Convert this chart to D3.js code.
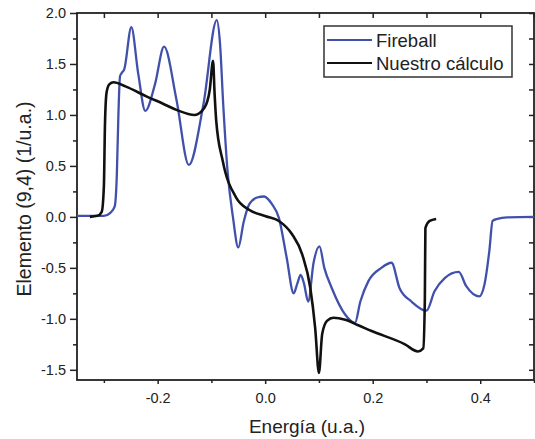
<!DOCTYPE html>
<html>
<head>
<meta charset="utf-8">
<script src="https://cdn.jsdelivr.net/npm/d3@7"></script>
<style>
  html, body { margin: 0; padding: 0; background: #fff; }
  svg { display: block; font-family: "Liberation Sans", Arial, sans-serif; }
</style>
</head>
<body>
<svg id="chart" width="535" height="439"></svg>
<script>
// ---- data ----
const fireballX = [-0.35, -0.30, -0.288, -0.280, -0.276, -0.273, -0.270, -0.267, -0.262, -0.249, -0.236, -0.223, -0.205, -0.188, -0.165, -0.142, -0.115, -0.090, -0.084, -0.078, -0.070, -0.060, -0.050, -0.040, -0.030, -0.015, -0.002, 0.012, 0.0255, 0.040, 0.053, 0.060, 0.066, 0.072, 0.080, 0.090, 0.101, 0.110, 0.124, 0.149, 0.167, 0.177, 0.192, 0.216, 0.235, 0.250, 0.272, 0.300, 0.315, 0.334, 0.360, 0.374, 0.398, 0.408, 0.417, 0.423, 0.432, 0.45, 0.50];
const fireballY = [0.01, 0.01, 0.04, 0.10, 0.40, 1.00, 1.38, 1.41, 1.45, 1.86, 1.40, 1.04, 1.30, 1.67, 1.15, 0.51, 1.10, 1.93, 1.70, 1.10, 0.45, 0.00, -0.30, -0.05, 0.12, 0.19, 0.20, 0.13, -0.01, -0.40, -0.75, -0.65, -0.57, -0.65, -0.83, -0.45, -0.29, -0.50, -0.70, -0.96, -1.04, -0.83, -0.63, -0.50, -0.45, -0.70, -0.83, -0.92, -0.73, -0.60, -0.54, -0.68, -0.78, -0.66, -0.33, -0.04, -0.02, -0.005, 0.0];

const calcX = [-0.326, -0.312, -0.304, -0.300, -0.298, -0.295, -0.290, -0.282, -0.260, -0.220, -0.190, -0.165, -0.131, -0.113, -0.103, -0.097, -0.094, -0.091, -0.079, -0.054, -0.030, 0.001, 0.0255, 0.050, 0.069, 0.084, 0.093, 0.100, 0.106, 0.115, 0.127, 0.149, 0.172, 0.198, 0.260, 0.284, 0.294, 0.297, 0.298, 0.306, 0.318];
const calcY = [0.0, 0.01, 0.05, 0.30, 0.90, 1.22, 1.30, 1.32, 1.28, 1.18, 1.11, 1.05, 1.00, 1.07, 1.25, 1.53, 1.20, 0.94, 0.55, 0.19, 0.07, 0.007, -0.04, -0.17, -0.37, -0.70, -1.09, -1.53, -1.15, -1.02, -0.99, -1.01, -1.06, -1.12, -1.25, -1.32, -1.29, -0.80, -0.11, -0.04, -0.02];

const xTicks = [-0.2, 0.0, 0.2, 0.4];
const xMinor = [-0.3, -0.1, 0.1, 0.3, 0.5];
const yTicks = [-1.5, -1.0, -0.5, 0.0, 0.5, 1.0, 1.5, 2.0];
const yMinor = [-1.25, -0.75, -0.25, 0.25, 0.75, 1.25, 1.75];
const seriesNames = ["Fireball", "Nuestro cálculo"];
const seriesColors = ["#4151ab", "#111111"];

// ---- layout ----
const svg = d3.select("#chart");
const L = 77, T = 13, R = 534, B = 380;
const x = d3.scaleLinear().domain([-0.35, 0.5]).range([L, R]);
const y = d3.scaleLinear().domain([-1.6, 2.0]).range([B, T]);
const fmt = d => d.toFixed(1);

const textColor = "#222";

// bottom axis
svg.append("g").attr("transform", `translate(0,${B})`)
  .call(d3.axisBottom(x).tickValues(xTicks).tickFormat(fmt).tickSize(4).tickPadding(9));
svg.append("g").attr("transform", `translate(0,${B})`)
  .call(d3.axisBottom(x).tickValues(xMinor).tickFormat("").tickSize(3));
// left axis
svg.append("g").attr("transform", `translate(${L},0)`)
  .call(d3.axisLeft(y).tickValues(yTicks).tickFormat(fmt).tickSize(7).tickPadding(4));
svg.append("g").attr("transform", `translate(${L},0)`)
  .call(d3.axisLeft(y).tickValues(yMinor).tickFormat("").tickSize(4));
// top axis (inward ticks)
svg.append("g").attr("transform", `translate(0,${T})`)
  .call(d3.axisTop(x).tickValues(xTicks.concat(xMinor)).tickFormat("").tickSize(-5));
// right axis (inward ticks)
svg.append("g").attr("transform", `translate(${R},0)`)
  .call(d3.axisRight(y).tickValues(yTicks.concat(yMinor)).tickFormat("").tickSize(-5));

svg.selectAll(".domain").remove();
svg.selectAll(".tick line").attr("stroke", "#222").attr("stroke-width", 1.5);
svg.selectAll(".tick text").attr("fill", textColor).style("font-size", "14.5px")
  .style("font-family", "'Liberation Sans', Arial, sans-serif");

// frame
svg.append("rect").attr("x", L).attr("y", T).attr("width", R - L).attr("height", B - T)
  .attr("fill", "none").attr("stroke", "#222").attr("stroke-width", 1.8);

// clip
svg.append("clipPath").attr("id", "clip").append("rect")
  .attr("x", L).attr("y", T).attr("width", R - L).attr("height", B - T);

const line = d3.line().x(d => x(d[0])).y(d => y(d[1])).curve(d3.curveMonotoneX);
const fireball = fireballX.map((v, i) => [v, fireballY[i]]);
const calc = calcX.map((v, i) => [v, calcY[i]]);

const plot = svg.append("g").attr("clip-path", "url(#clip)");
plot.append("path").datum(fireball).attr("d", line)
  .attr("fill", "none").attr("stroke", seriesColors[0]).attr("stroke-width", 2.3).attr("stroke-linejoin", "round");
plot.append("path").datum(calc).attr("d", line)
  .attr("fill", "none").attr("stroke", seriesColors[1]).attr("stroke-width", 2.6).attr("stroke-linejoin", "round");

// axis titles
svg.append("text").attr("x", 307).attr("y", 433).attr("text-anchor", "middle")
  .attr("fill", textColor).style("font-size", "19px").text("Energía (u.a.)");
svg.append("text").attr("transform", `translate(31,199) rotate(-90)`).attr("text-anchor", "middle")
  .attr("fill", textColor).style("font-size", "19.5px").text("Elemento (9,4) (1/u.a.)");

// legend
const lg = svg.append("g");
lg.append("rect").attr("x", 324).attr("y", 26).attr("width", 188).attr("height", 51)
  .attr("fill", "#fff").attr("stroke", "#333").attr("stroke-width", 1.5);
seriesNames.forEach((name, i) => {
  const yy = 40 + i * 23;
  lg.append("line").attr("x1", 327).attr("x2", 372).attr("y1", yy).attr("y2", yy)
    .attr("stroke", seriesColors[i]).attr("stroke-width", 2.2);
  lg.append("text").attr("x", 376).attr("y", yy + 6.5).attr("fill", textColor)
    .style("font-size", "18.5px").text(name);
});
</script>
</body>
</html>
